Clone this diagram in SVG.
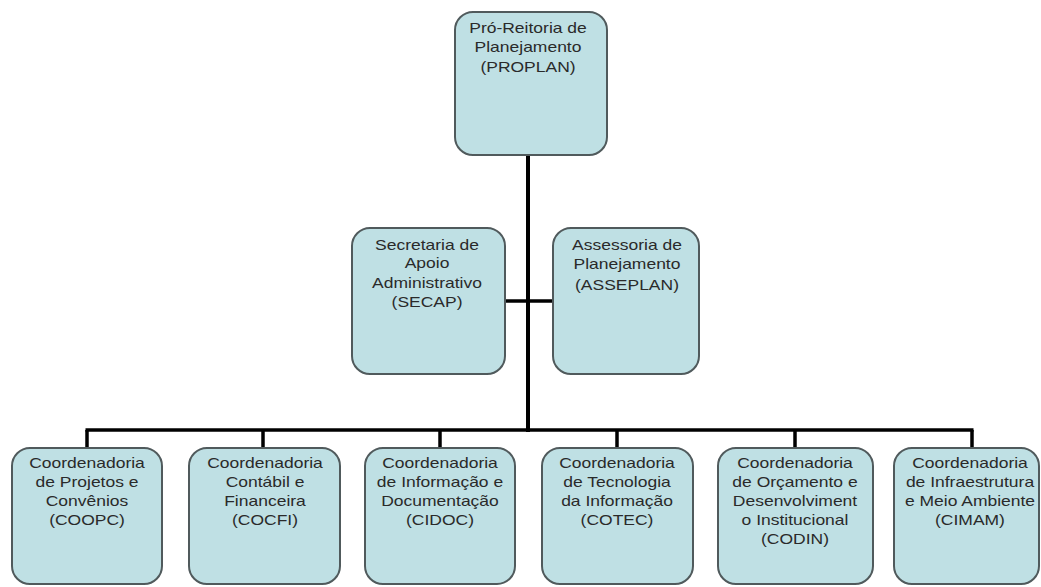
<svg xmlns="http://www.w3.org/2000/svg" width="1041" height="587" viewBox="0 0 1041 587">
<style>
.box{fill:#bfe0e4;stroke:#505a5c;stroke-width:2}
.lbl{font-family:"Liberation Sans",Arial,sans-serif;font-size:14px;fill:#2a2a2a;text-anchor:middle}
.con{stroke:#000;fill:none}
</style>
<rect width="1041" height="587" fill="#fff"/>
<g id="connectors">
<line class="con" x1="528" y1="155" x2="528" y2="432" stroke-width="4"/>
<line class="con" x1="505" y1="301" x2="552" y2="301" stroke-width="3.5"/>
<line class="con" x1="85.5" y1="430" x2="973.5" y2="430" stroke-width="3.5"/>
<line class="con" x1="87" y1="430" x2="87" y2="448" stroke-width="3.5"/>
<line class="con" x1="263" y1="430" x2="263" y2="448" stroke-width="3.5"/>
<line class="con" x1="440" y1="430" x2="440" y2="448" stroke-width="3.5"/>
<line class="con" x1="617" y1="430" x2="617" y2="448" stroke-width="3.5"/>
<line class="con" x1="795" y1="430" x2="795" y2="448" stroke-width="3.5"/>
<line class="con" x1="972" y1="430" x2="972" y2="448" stroke-width="3.5"/>
</g>
<g id="proplan">
<rect class="box" x="455" y="12" width="152" height="143" rx="18"/>
<g transform="translate(528,0) scale(1.25,1)"><text class="lbl"><tspan x="0" y="33">Pró-Reitoria de</tspan><tspan x="0" y="52">Planejamento</tspan><tspan x="0" y="72">(PROPLAN)</tspan></text></g>
</g>
<g id="secap">
<rect class="box" x="352" y="228" width="153" height="146" rx="18"/>
<g transform="translate(427,0) scale(1.25,1)"><text class="lbl"><tspan x="0" y="250">Secretaria de</tspan><tspan x="0" y="268">Apoio</tspan><tspan x="0" y="288">Administrativo</tspan><tspan x="0" y="307">(SECAP)</tspan></text></g>
</g>
<g id="asseplan">
<rect class="box" x="553" y="228" width="146" height="146" rx="18"/>
<g transform="translate(627,0) scale(1.25,1)"><text class="lbl"><tspan x="0" y="250">Assessoria de</tspan><tspan x="0" y="269">Planejamento</tspan><tspan x="0" y="290">(ASSEPLAN)</tspan></text></g>
</g>
<g id="coopc">
<rect class="box" x="12" y="448" width="150" height="136" rx="18"/>
<g transform="translate(87,0) scale(1.25,1)"><text class="lbl"><tspan x="0" y="468">Coordenadoria</tspan><tspan x="0" y="487">de Projetos e</tspan><tspan x="0" y="506">Convênios</tspan><tspan x="0" y="525">(COOPC)</tspan></text></g>
</g>
<g id="cocfi">
<rect class="box" x="189" y="448" width="151" height="136" rx="18"/>
<g transform="translate(265,0) scale(1.25,1)"><text class="lbl"><tspan x="0" y="468">Coordenadoria</tspan><tspan x="0" y="487">Contábil e</tspan><tspan x="0" y="506">Financeira</tspan><tspan x="0" y="525">(COCFI)</tspan></text></g>
</g>
<g id="cidoc">
<rect class="box" x="365" y="448" width="150" height="136" rx="18"/>
<g transform="translate(440,0) scale(1.25,1)"><text class="lbl"><tspan x="0" y="468">Coordenadoria</tspan><tspan x="0" y="487">de Informação e</tspan><tspan x="0" y="506">Documentação</tspan><tspan x="0" y="525">(CIDOC)</tspan></text></g>
</g>
<g id="cotec">
<rect class="box" x="542" y="448" width="151" height="136" rx="18"/>
<g transform="translate(617,0) scale(1.25,1)"><text class="lbl"><tspan x="0" y="468">Coordenadoria</tspan><tspan x="0" y="487">de Tecnologia</tspan><tspan x="0" y="506">da Informação</tspan><tspan x="0" y="525">(COTEC)</tspan></text></g>
</g>
<g id="codin">
<rect class="box" x="718" y="448" width="155" height="136" rx="18"/>
<g transform="translate(795,0) scale(1.25,1)"><text class="lbl"><tspan x="0" y="468">Coordenadoria</tspan><tspan x="0" y="487">de Orçamento e</tspan><tspan x="0" y="506">Desenvolviment</tspan><tspan x="0" y="525">o Institucional</tspan><tspan x="0" y="544">(CODIN)</tspan></text></g>
</g>
<g id="cimam">
<rect class="box" x="894" y="448" width="145" height="136" rx="18"/>
<g transform="translate(970,0) scale(1.25,1)"><text class="lbl"><tspan x="0" y="468">Coordenadoria</tspan><tspan x="0" y="487">de Infraestrutura</tspan><tspan x="0" y="506">e Meio Ambiente</tspan><tspan x="0" y="525">(CIMAM)</tspan></text></g>
</g>
</svg>
